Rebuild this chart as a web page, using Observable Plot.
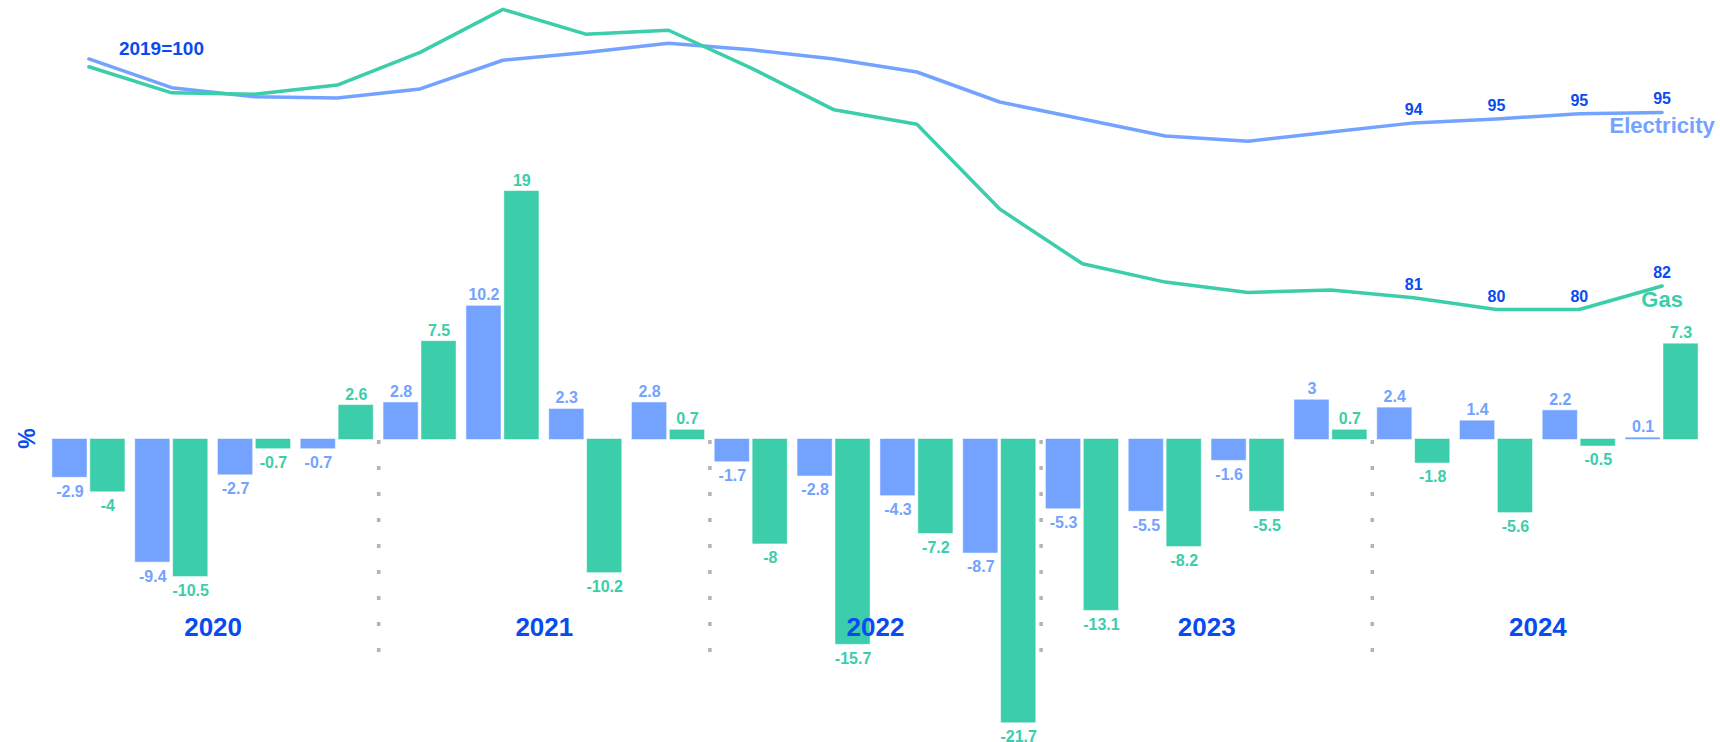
<!DOCTYPE html>
<html><head><meta charset="utf-8">
<script src="https://cdn.jsdelivr.net/npm/d3@7"></script>
<script src="https://cdn.jsdelivr.net/npm/@observablehq/plot@0.6"></script>
<style>
html,body{margin:0;padding:0;background:#fff;overflow:hidden}
#chart{position:relative;width:1720px;height:742px}
#chart svg{position:absolute;left:0;top:0}
</style></head><body><div id="chart"></div>
<script>
// ---- data ----
const quarters = ["2020 Q1","2020 Q2","2020 Q3","2020 Q4","2021 Q1","2021 Q2","2021 Q3","2021 Q4",
  "2022 Q1","2022 Q2","2022 Q3","2022 Q4","2023 Q1","2023 Q2","2023 Q3","2023 Q4",
  "2024 Q1","2024 Q2","2024 Q3","2024 Q4"];
const years = [2020, 2021, 2022, 2023, 2024];
const series = ["Electricity", "Gas"];
const elecChange = [-2.9, -9.4, -2.7, -0.7, 2.8, 10.2, 2.3, 2.8, -1.7, -2.8, -4.3, -8.7, -5.3, -5.5, -1.6, 3, 2.4, 1.4, 2.2, 0.1];
const gasChange = [-4, -10.5, -0.7, 2.6, 7.5, 19, -10.2, 0.7, -8, -15.7, -7.2, -21.7, -13.1, -8.2, -5.5, 0.7, -1.8, -5.6, -0.5, 7.3];
const elecIndex = [99.2, 97.0, 96.3, 96.2, 96.9, 99.1, 99.7, 100.4, 99.9, 99.2, 98.2, 95.9, 94.6, 93.3, 92.9, 93.6, 94.3, 94.6, 95.0, 95.1];
const gasIndex = [98.6, 96.6, 96.5, 97.2, 99.7, 103.0, 101.1, 101.4, 98.5, 95.3, 94.2, 87.7, 83.5, 82.1, 81.3, 81.5, 80.9, 80.0, 80.0, 81.8];
const labelledQuarters = ["2024 Q1", "2024 Q2", "2024 Q3", "2024 Q4"];
const baseYearLabel = "2019=100";
const baseValue = 100;
const unitLabel = "%";

// ---- styles ----
const seriesColors = ["#74a3ff", "#3ccdab"];
const labelBlue = "#0a4bf0";
const font = "'Liberation Sans', Arial, Helvetica, sans-serif";

const bars = quarters.flatMap((q, i) => [
  {quarter: q, series: "Electricity", value: elecChange[i]},
  {quarter: q, series: "Gas", value: gasChange[i]}
]);
const lines = quarters.flatMap((q, i) => [
  {quarter: q, series: "Electricity", value: elecIndex[i]},
  {quarter: q, series: "Gas", value: gasIndex[i]}
]);

const W = 1720, H = 742, ML = 47, MR = 17;
const style = {background: "none", fontFamily: font, overflow: "visible"};
const bandOpts = {paddingInner: 0.13, paddingOuter: 0.065, round: false};

// Bars (percent change)
const plotA = Plot.plot({
  width: W, height: H, marginLeft: ML, marginRight: MR, marginTop: 0, marginBottom: 0,
  style,
  fx: {domain: quarters, ...bandOpts, axis: null, label: null},
  x: {domain: series, paddingInner: 0.1, paddingOuter: 0, round: false, axis: null, label: null},
  y: {domain: [-20, 20], range: [700, 178], axis: null},
  color: {domain: series, range: seriesColors},
  marks: [
    Plot.barY(bars, {fx: "quarter", x: "series", y: "value", fill: "series", stroke: "series", strokeOpacity: 0.5, strokeWidth: 1}),
    Plot.text(bars.filter(d => d.value >= 0), {fx: "quarter", x: "series", y: "value", text: d => String(d.value),
      fill: "series", lineAnchor: "bottom", dy: -6, fontSize: 16, fontWeight: "bold"}),
    Plot.text(bars.filter(d => d.value < 0), {fx: "quarter", x: "series", y: "value", text: d => String(d.value),
      fill: "series", lineAnchor: "top", dy: 8, fontSize: 16, fontWeight: "bold"})
  ]
});

// Year separators, year labels, unit label
const plotC = Plot.plot({
  width: W, height: H, marginLeft: ML, marginRight: MR, marginTop: 440, marginBottom: 90,
  style,
  x: {domain: [years[0], years[years.length - 1] + 1], axis: null},
  marks: [
    Plot.ruleX(years.slice(1), {stroke: "#b4b4b4", strokeWidth: 3.5, strokeDasharray: "4 22"}),
    Plot.text(years, {x: d => d + 0.5, frameAnchor: "bottom", text: d => String(d), dy: -25, lineAnchor: "middle",
      fill: labelBlue, fontSize: 26, fontWeight: "bold"}),
    Plot.text([unitLabel], {frameAnchor: "top-left", text: d => d, dx: -20, dy: -2, rotate: -90,
      textAnchor: "middle", lineAnchor: "middle", fill: labelBlue, fontSize: 23, fontWeight: "bold"})
  ]
});

// Index lines (2019=100)
const plotB = Plot.plot({
  width: W, height: H, marginLeft: ML, marginRight: MR, marginTop: 0, marginBottom: 0,
  style,
  x: {type: "band", domain: quarters, ...bandOpts, axis: null},
  y: {domain: [80, 100], range: [309, 48], axis: null},
  color: {domain: series, range: seriesColors},
  marks: [
    Plot.line(lines, {x: "quarter", y: "value", z: "series", stroke: "series", strokeWidth: 3.5}),
    Plot.text(lines.filter(d => labelledQuarters.includes(d.quarter)), {x: "quarter", y: "value",
      text: d => d3.format(".0f")(d.value), fill: labelBlue, lineAnchor: "bottom", dy: -8, fontSize: 16, fontWeight: "bold"}),
    Plot.text(lines.filter(d => d.quarter === quarters[quarters.length - 1]), {x: "quarter", y: "value",
      text: "series", fill: "series", lineAnchor: "top", dy: 5, fontSize: 22, fontWeight: "bold"}),
    Plot.text([{quarter: quarters[0], value: baseValue, label: baseYearLabel}], {x: "quarter", y: "value", text: "label",
      textAnchor: "start", lineAnchor: "middle", dx: 30, fill: labelBlue, fontSize: 19, fontWeight: "bold"})
  ]
});

const chart = document.getElementById("chart");
chart.append(plotA, plotC, plotB);
</script>
</body></html>
